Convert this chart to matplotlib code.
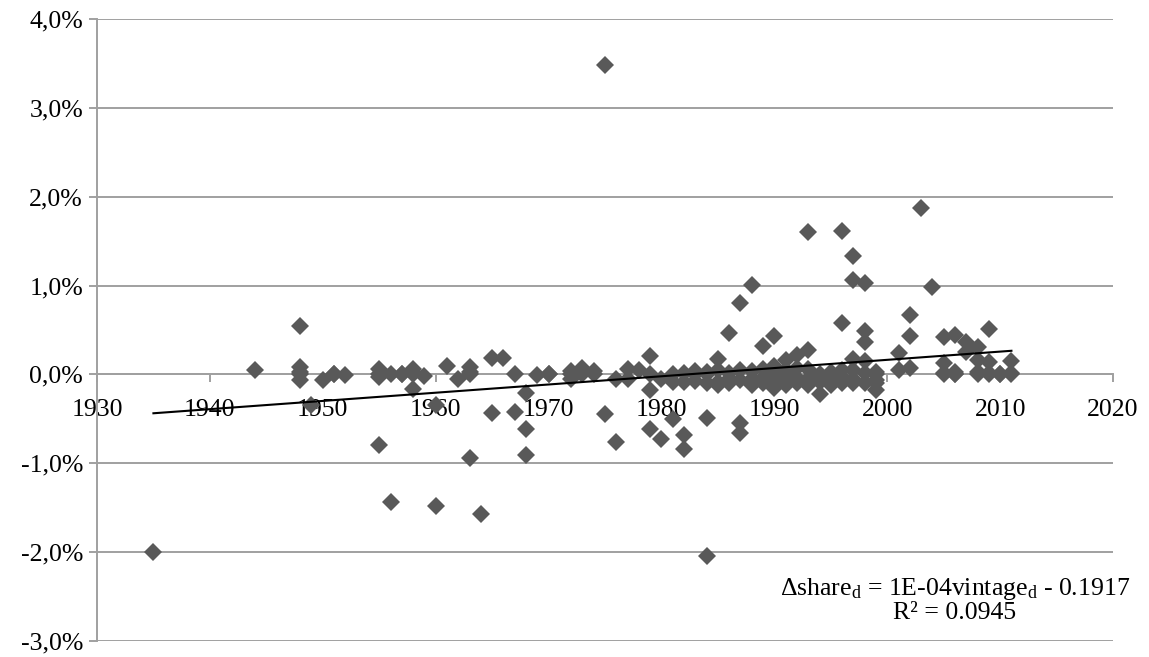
import numpy as np
import matplotlib.pyplot as plt
from matplotlib.ticker import FuncFormatter

# vintage year of each plant and change in share (in %)
vintage = [1935, 1944,
           1948, 1948, 1948, 1948, 1948, 1949, 1950, 1951, 1951, 1952,
           1955, 1955, 1955, 1955, 1956, 1956, 1957, 1957, 1958, 1958, 1958, 1958, 1959,
           1960, 1960, 1961, 1962, 1963, 1963, 1963, 1963, 1964, 1965, 1965,
           1966, 1967, 1967, 1968, 1968, 1968, 1969, 1970, 1970,
           1972, 1972, 1972, 1973, 1973, 1974, 1974, 1975, 1975, 1976, 1976, 1977, 1977, 1978,
           1979, 1979, 1979, 1979, 1980, 1980, 1981, 1981, 1981,
           1982, 1982, 1982, 1982, 1983, 1983, 1983, 1984, 1984, 1984, 1984, 1984,
           1985, 1985, 1985, 1985, 1986, 1986, 1986, 1986,
           1987, 1987, 1987, 1987, 1987,
           1988, 1988, 1988, 1988, 1989, 1989, 1989, 1989,
           1990, 1990, 1990, 1990, 1990, 1990,
           1991, 1991, 1991, 1991, 1991, 1992, 1992, 1992, 1992,
           1993, 1993, 1993, 1993, 1993,
           1994, 1994, 1994, 1994, 1995, 1995, 1995, 1995,
           1996, 1996, 1996, 1996, 1996,
           1997, 1997, 1997, 1997, 1997, 1997,
           1998, 1998, 1998, 1998, 1998, 1998,
           1999, 1999, 1999, 1999, 1999,
           2001, 2001, 2002, 2002, 2002, 2003, 2004,
           2005, 2005, 2005, 2005, 2006, 2006, 2006, 2006, 2007, 2007,
           2008, 2008, 2008, 2008, 2009, 2009, 2009, 2009, 2010, 2010, 2011, 2011, 2011]
share_pct = [-2.00, 0.05,
             0.54, 0.08, 0.03, 0.00, -0.06, -0.34, -0.06, 0.00, 0.00, -0.01,
             0.06, 0.00, -0.03, -0.79, 0.00, -1.44, 0.00, 0.00, 0.06, 0.03, 0.00, -0.16, -0.02,
             -0.34, -1.48, 0.10, -0.05, 0.08, 0.03, 0.00, -0.94, -1.57, 0.19, -0.43,
             0.19, 0.01, -0.42, -0.21, -0.62, -0.91, -0.01, 0.00, 0.00,
             0.04, 0.00, -0.05, 0.07, 0.01, 0.04, 0.00, 3.48, -0.45, -0.05, -0.76, 0.06, -0.05, 0.05,
             0.21, 0.00, -0.17, -0.62, -0.05, -0.73, 0.00, -0.09, -0.50,
             0.02, -0.08, -0.68, -0.84, 0.04, 0.00, -0.07, 0.03, 0.00, -0.10, -0.49, -2.04,
             0.17, 0.05, -0.08, -0.12, 0.47, 0.02, -0.05, -0.10,
             0.80, 0.05, -0.06, -0.55, -0.66,
             1.01, 0.04, -0.05, -0.12, 0.32, 0.06, -0.04, -0.10,
             0.43, 0.10, 0.00, -0.02, -0.10, -0.15,
             0.16, 0.05, 0.00, -0.06, -0.12, 0.22, 0.07, -0.04, -0.10,
             1.60, 0.27, 0.06, -0.05, -0.12,
             0.00, -0.05, -0.08, -0.22, 0.03, 0.02, -0.05, -0.12,
             1.61, 0.58, 0.05, -0.03, -0.10,
             1.33, 1.06, 0.17, 0.05, -0.05, -0.10,
             1.03, 0.49, 0.37, 0.15, 0.02, -0.10,
             0.03, 0.00, -0.06, -0.10, -0.17,
             0.24, 0.05, 0.67, 0.43, 0.07, 1.87, 0.98,
             0.42, 0.13, 0.02, 0.00, 0.44, 0.03, 0.01, 0.00, 0.36, 0.25,
             0.31, 0.16, 0.03, 0.00, 0.51, 0.14, 0.02, 0.00, 0.01, 0.00, 0.15, 0.02, 0.00]

x_ticks = [1930, 1940, 1950, 1960, 1970, 1980, 1990, 2000, 2010, 2020]
y_ticks = [-0.03, -0.02, -0.01, 0.0, 0.01, 0.02, 0.03, 0.04]

plt.rcParams['font.family'] = ['Liberation Serif', 'DejaVu Serif']
plt.rcParams['mathtext.fontset'] = 'custom'
plt.rcParams['mathtext.rm'] = 'Liberation Serif'
plt.rcParams['mathtext.it'] = 'Liberation Serif:italic'

x = np.array(vintage)
y = np.array(share_pct) / 100.0

fig = plt.figure(figsize=(11.49, 6.57), dpi=100)
ax = fig.add_axes([0.0844, 0.0244, 0.8843, 0.9467])

grid_col = '#a0a0a0'
ax.set_xlim(1930, 2020)
ax.set_ylim(-0.03, 0.04)
ax.set_yticks(y_ticks)
ax.set_xticks(x_ticks)
ax.yaxis.set_major_formatter(FuncFormatter(lambda v, p: f'{v*100:.1f}%'.replace('.', ',')))
ax.grid(axis='y', color=grid_col, linewidth=1.4, zorder=0)
ax.set_axisbelow(True)

for s in ['top', 'right']:
    ax.spines[s].set_visible(False)
ax.spines['left'].set_color(grid_col)
ax.spines['left'].set_linewidth(1.4)
ax.spines['bottom'].set_position(('data', 0))
ax.spines['bottom'].set_color(grid_col)
ax.spines['bottom'].set_linewidth(1.4)
ax.tick_params(axis='y', length=6, width=1.4, color=grid_col, labelsize=18.5, pad=4)
ax.tick_params(axis='x', length=6, width=1.4, color=grid_col, labelsize=18.5, pad=12)

ax.plot(x, y, linestyle='none', marker='D', markersize=9.5, color='#595959',
        markeredgewidth=0, zorder=3)

# linear trend line
slope, intercept = np.polyfit(x, y, 1)
xt = np.array([x.min(), x.max()])
ax.plot(xt, slope * xt + intercept, color='black', linewidth=1.5, zorder=4)

fig.text(955 / 1149, 1 - 600 / 657,
         r'$\Delta$share$_{\mathrm{d}}$ = 1E-04vintage$_{\mathrm{d}}$ - 0.1917' + '\nR² = 0.0945',
         ha='center', va='center', fontsize=18.5, linespacing=1.0)

plt.savefig('out.png', dpi=100)
